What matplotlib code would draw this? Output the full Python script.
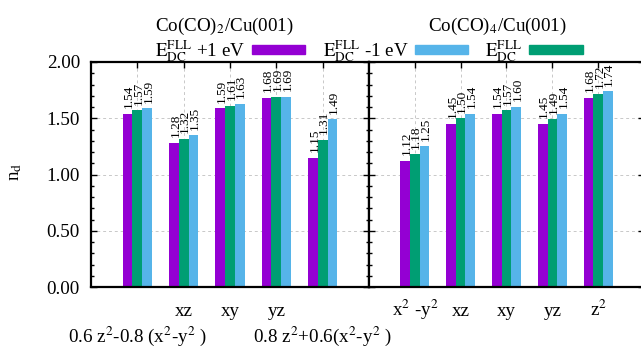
import matplotlib
matplotlib.use('Agg')
import matplotlib.pyplot as plt
from matplotlib.patches import Patch
from matplotlib.ticker import MultipleLocator, FormatStrFormatter
import numpy as np

plt.rcParams['font.family'] = ['Liberation Serif', 'DejaVu Serif']
plt.rcParams['mathtext.fontset'] = 'stix'

# ---------------- data ----------------
titles = ['Co(CO)$_2$/Cu(001)', 'Co(CO)$_4$/Cu(001)']

# left panel: Co(CO)2/Cu(001)
cats_left = ['0.6 z$^2$-0.8 (x$^2$-y$^2$ )', 'xz', 'xy', 'yz', '0.8 z$^2$+0.6(x$^2$-y$^2$ )']
cats_left_row = [1, 0, 0, 0, 1]          # 0 = first line, 1 = second line
left_plus1 = [1.54, 1.28, 1.59, 1.68, 1.15]
left_dc = [1.57, 1.32, 1.61, 1.69, 1.31]
left_minus1 = [1.59, 1.35, 1.63, 1.69, 1.49]

# right panel: Co(CO)4/Cu(001)
cats_right = ['x$^2$ -y$^2$', 'xz', 'xy', 'yz', 'z$^2$']
cats_right_row = [0, 0, 0, 0, 0]
right_plus1 = [1.12, 1.45, 1.54, 1.45, 1.68]
right_dc = [1.18, 1.50, 1.57, 1.49, 1.72]
right_minus1 = [1.25, 1.54, 1.60, 1.54, 1.74]

yticks = [0.0, 0.5, 1.0, 1.5, 2.0]
ylabel = 'n$_{\\rm d}$'
legend_labels = ['$\\mathrm{E}_{\\mathrm{DC}}^{\\mathrm{FLL}}$ +1 eV',
                 '$\\mathrm{E}_{\\mathrm{DC}}^{\\mathrm{FLL}}$ -1 eV',
                 '$\\mathrm{E}_{\\mathrm{DC}}^{\\mathrm{FLL}}$']

# ---------------- style ----------------
C_PLUS = '#9400d3'
C_DC = '#009e73'
C_MINUS = '#56b4e9'
FS = 13.7
FS_VAL = 9.5
W = 641.0
H = 349.0

fig = plt.figure(figsize=(6.41, 3.49), dpi=100)
bottom = (H - 287) / H
height = 225 / H
axL = fig.add_axes([91 / W, bottom, 278 / W, height])
axR = fig.add_axes([369 / W, bottom, 275 / W, height])

BW = 0.21


def draw(ax, cats, rows, plus1, dc, minus1, show_ylabels):
    x = np.arange(len(cats))
    ax.set_axisbelow(True)
    for off, vals, col in [(-BW, plus1, C_PLUS), (0.0, dc, C_DC), (BW, minus1, C_MINUS)]:
        bars = ax.bar(x + off, vals, width=BW, color=col, linewidth=0, zorder=2)
        for b, v in zip(bars, vals):
            ax.annotate(f'{v:.2f}', (b.get_x() + b.get_width() / 2, v),
                        xytext=(1, 4), textcoords='offset points',
                        rotation=90, ha='center', va='bottom', fontsize=FS_VAL,
                        zorder=3)
    ax.set_xlim(-1, 5)
    ax.set_ylim(0, 2)
    ax.set_xticks(x)
    ax.set_xticklabels([])
    ax.set_yticks(yticks)
    ax.yaxis.set_major_formatter(FormatStrFormatter('%.2f'))
    ax.yaxis.set_minor_locator(MultipleLocator(0.1))
    ax.tick_params(axis='both', which='both', direction='in', top=True, bottom=True,
                   left=True, right=True, width=1.0)
    ax.tick_params(axis='both', which='major', length=4.5)
    ax.tick_params(axis='both', which='minor', length=2.5)
    ax.tick_params(axis='y', labelsize=FS, pad=8, labelleft=show_ylabels)
    ax.grid(True, which='major', color='#c8c8c8', linestyle=(0, (3, 3)), linewidth=0.7)
    for s in ax.spines.values():
        s.set_linewidth(1.6)
    tr = ax.get_xaxis_transform()
    for xi, lab, r in zip(x, cats, rows):
        ax.text(xi, -0.129 if r == 0 else -0.244, lab, transform=tr,
                ha='center', va='baseline', fontsize=FS)


draw(axL, cats_left, cats_left_row, left_plus1, left_dc, left_minus1, True)
draw(axR, cats_right, cats_right_row, right_plus1, right_dc, right_minus1, False)

axL.set_ylabel(ylabel, fontsize=FS, va='center')
axL.yaxis.set_label_coords(-0.27, 0.51)

fig.text(224 / W, 1 - 31 / H, titles[0], ha='center', va='baseline', fontsize=FS)
fig.text(497 / W, 1 - 31 / H, titles[1], ha='center', va='baseline', fontsize=FS)

handles = [Patch(color=C_PLUS), Patch(color=C_MINUS), Patch(color=C_DC)]
fig.legend(handles, legend_labels, loc='center', bbox_to_anchor=(369 / W, 1 - 51 / H),
           ncol=3, frameon=False, markerfirst=False, handlelength=2.8, handleheight=0.4,
           handletextpad=0.35, columnspacing=0.9, fontsize=FS, borderpad=0,
           borderaxespad=0)

fig.savefig('out.png', dpi=100)
